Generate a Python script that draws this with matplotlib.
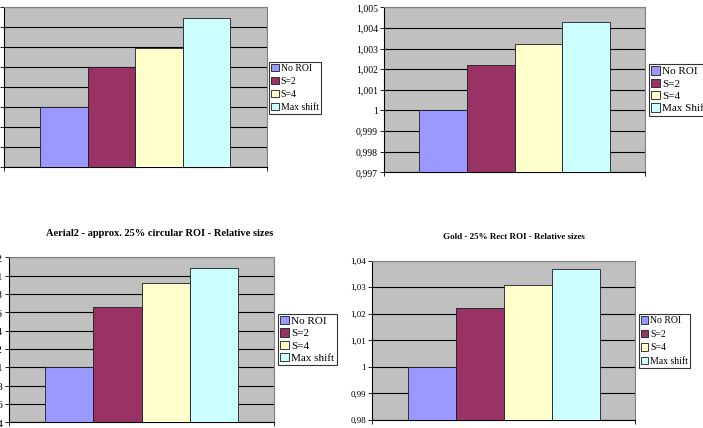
import matplotlib
matplotlib.use("Agg")
import matplotlib.pyplot as plt
from matplotlib.patches import Patch

W, H = 703, 428

series = ["No ROI", "S=2", "S=4", "Max shift"]
series_tr = ["No ROI", "S=2", "S=4", "Max Shift"]
colors = ["#9999FF", "#993366", "#FFFFCC", "#CCFFFF"]

tl_values = [1.0, 1.0040, 1.0059, 1.0089]
tl_ticks = [0.994, 0.996, 0.998, 1.0, 1.002, 1.004, 1.006, 1.008, 1.010]
tl_labels = ["0,994", "0,996", "0,998", "1", "1,002", "1,004", "1,006", "1,008", "1,01"]

tr_values = [1.0, 1.0022, 1.0032, 1.0043]
tr_ticks = [0.997, 0.998, 0.999, 1.0, 1.001, 1.002, 1.003, 1.004, 1.005]
tr_labels = ["0,997", "0,998", "0,999", "1", "1,001", "1,002", "1,003", "1,004", "1,005"]

bl_values = [1.0, 1.00655, 1.0092, 1.0108]
bl_ticks = [0.994, 0.996, 0.998, 1.0, 1.002, 1.004, 1.006, 1.008, 1.010, 1.012]
bl_labels = ["0,994", "0,996", "0,998", "1", "1,002", "1,004", "1,006", "1,008", "1,01", "1,012"]

br_values = [1.0, 1.0223, 1.0309, 1.0369]
br_ticks = [0.98, 0.99, 1.0, 1.01, 1.02, 1.03, 1.04]
br_labels = ["0,98", "0,99", "1", "1,01", "1,02", "1,03", "1,04"]

bl_title = "Aerial2 - approx. 25% circular ROI - Relative sizes"
br_title = "Gold - 25% Rect ROI - Relative sizes"

SERIF = ["Liberation Serif", "DejaVu Serif"]

fig = plt.figure(figsize=(W / 100, H / 100), dpi=100)
fig.patch.set_facecolor("white")


def rect(l, t, r, b):
    return [l / W, 1 - b / H, (r - l) / W, (b - t) / H]


def draw(axrect, values, ticks, labels, names, group, tick_fs, leg_pos, leg_fs,
         leg_sp, title=None, title_xy=None, title_fs=7):
    ax = fig.add_axes(rect(*axrect))
    ax.set_facecolor("#C0C0C0")
    n = len(values)
    w = group / n
    for i, (v, c) in enumerate(zip(values, colors)):
        x = -group / 2 + w * (i + 0.5)
        ax.bar(x, v - ticks[0], bottom=ticks[0], width=w, color=c,
               edgecolor="#1a1a1a", linewidth=0.6, zorder=3)
    ax.set_xlim(-0.5, 0.5)
    ax.set_ylim(ticks[0], ticks[-1])
    ax.set_yticks(ticks)
    ax.set_yticklabels(labels, family=SERIF, fontsize=tick_fs)
    ax.set_xticks([-0.5, 0.5])
    ax.set_xticklabels(["", ""])
    ax.tick_params(axis="both", direction="out", length=3, width=0.6, pad=1.5,
                   colors="black")
    ax.yaxis.grid(True, color="black", linewidth=0.8, zorder=1)
    ax.set_axisbelow(True)
    for s in ["top", "right"]:
        ax.spines[s].set_color("#808080")
        ax.spines[s].set_linewidth(0.8)
    for s in ["left", "bottom"]:
        ax.spines[s].set_color("black")
        ax.spines[s].set_linewidth(0.8)
    handles = [Patch(facecolor=c, edgecolor="#1a1a1a", linewidth=0.6) for c in colors]
    l, t = leg_pos
    leg = fig.legend(handles, names, loc="upper left",
                     bbox_to_anchor=(l / W, 1 - t / H),
                     prop={"family": SERIF, "size": leg_fs},
                     frameon=True, fancybox=False, borderpad=0.2,
                     handlelength=0.8, handleheight=0.8, handletextpad=0.2,
                     labelspacing=leg_sp, borderaxespad=0)
    leg.get_frame().set_edgecolor("black")
    leg.get_frame().set_linewidth(0.8)
    if title:
        fig.text(title_xy[0] / W, 1 - title_xy[1] / H, title, ha="center",
                 va="center", family=SERIF, fontweight="bold", fontsize=title_fs)
    return ax


draw((4, 6.7, 266.7, 167.3), tl_values, tl_ticks, tl_labels, series, 0.723, 7,
     (269, 62), 7, 0.4)
draw((384.3, 7.3, 644.7, 172.3), tr_values, tr_ticks, tr_labels, series_tr, 0.73, 7,
     (649, 64), 8, 0.2)
draw((9.3, 257.3, 274, 422.3), bl_values, bl_ticks, bl_labels, series, 0.728, 8,
     (278, 313.7), 8, 0.2, bl_title, (160, 233.7), 7.5)
draw((372.3, 260.7, 635.3, 420), br_values, br_ticks, br_labels, series, 0.73, 6.5,
     (638.7, 314.3), 7, 0.45, br_title, (514, 237), 6.5)

fig.savefig("out.png", dpi=100)
